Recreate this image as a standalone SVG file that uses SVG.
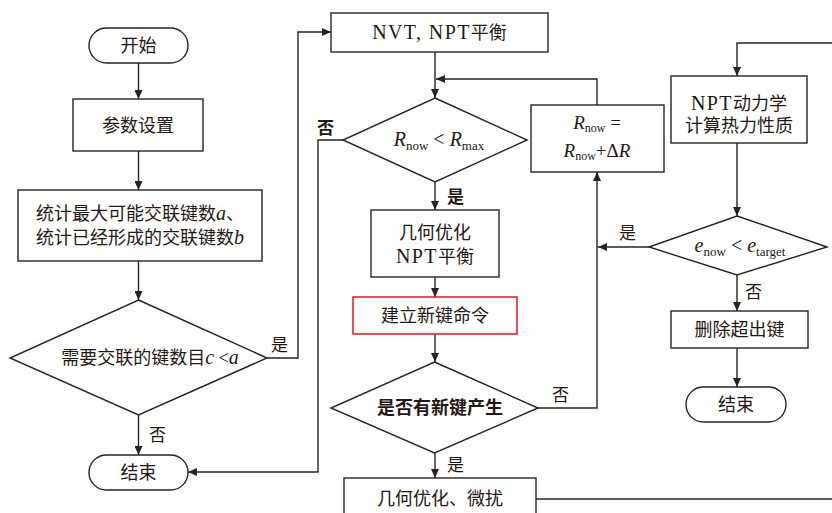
<svg xmlns="http://www.w3.org/2000/svg" width="832" height="513" viewBox="0 0 832 513">
<style>
.shape{fill:#fff;stroke:#2a2220;stroke-width:1.4}
.red{fill:#fff;stroke:#e8141c;stroke-width:1.5}
.conn{fill:none;stroke:#2a2220;stroke-width:1.4}
text{font-family:"Liberation Serif","Noto Sans CJK SC",serif;font-size:18px;fill:#231815}
.c{text-anchor:middle}
.lbl{font-size:17px}
.b{font-weight:bold}
.lat{font-size:20px;letter-spacing:1.4px}
.m{font-style:italic;font-size:20px}
.s{font-size:13px;font-style:normal}
.rb{font-size:19px}
.rb .s{font-size:12px}
</style>
<defs>
<marker id="ah" markerWidth="9" markerHeight="8" refX="9" refY="4" orient="auto" markerUnits="userSpaceOnUse">
<path d="M0,0 L9,4 L0,8 Z" fill="#2a2220"/>
</marker>
</defs>

<g id="connectors">
<path class="conn" d="M138.5,63 V99" marker-end="url(#ah)"/>
<path class="conn" d="M138.5,151 V190" marker-end="url(#ah)"/>
<path class="conn" d="M138.5,261 V300" marker-end="url(#ah)"/>
<path class="conn" d="M267,358 H298 V32 H331" marker-end="url(#ah)"/>
<path class="conn" d="M138.5,415 V455" marker-end="url(#ah)"/>
<path class="conn" d="M343,140 H318 V472 H188" marker-end="url(#ah)"/>
<path class="conn" d="M435,52 V98" marker-end="url(#ah)"/>
<path class="conn" d="M597,105 V79 H436" marker-end="url(#ah)"/>
<path class="conn" d="M435,182 V210" marker-end="url(#ah)"/>
<path class="conn" d="M435,277 V297" marker-end="url(#ah)"/>
<path class="conn" d="M435,334 V362" marker-end="url(#ah)"/>
<path class="conn" d="M538,408 H597 V172" marker-end="url(#ah)"/>
<path class="conn" d="M435,453 V478" marker-end="url(#ah)"/>
<path class="conn" d="M536,499 H840"/>
<path class="conn" d="M840,43 H737 V76" marker-end="url(#ah)"/>
<path class="conn" d="M737,143 V216" marker-end="url(#ah)"/>
<path class="conn" d="M649,247 H598" marker-end="url(#ah)"/>
<path class="conn" d="M737,275 V311" marker-end="url(#ah)"/>
<path class="conn" d="M737,348 V387" marker-end="url(#ah)"/>
<text class="lbl" x="271" y="351">是</text>
<text class="lbl" x="149" y="441">否</text>
<text class="lbl b" x="317" y="134">否</text>
<text class="lbl b" x="447" y="203">是</text>
<text class="lbl" x="552" y="401">否</text>
<text class="lbl" x="447" y="471">是</text>
<text class="lbl" x="619" y="239">是</text>
<text class="lbl" x="745" y="298">否</text>
</g>

<g id="start">
<rect class="shape" x="89" y="28" width="99" height="35" rx="17.5"/>
<text class="c" x="138.5" y="51.5">开始</text>
</g>
<g id="params">
<rect class="shape" x="73" y="99" width="130" height="52"/>
<text class="c" x="138" y="131.5">参数设置</text>
</g>
<g id="stats">
<rect class="shape" x="18" y="190" width="244" height="71"/>
<text class="c" x="140" y="219.5">统计最大可能交联键数<tspan class="m">a</tspan>、</text>
<text class="c" x="140" y="243.5">统计已经形成的交联键数<tspan class="m">b</tspan></text>
</g>
<g id="need">
<polygon class="shape" points="138.5,300 267,358 138.5,415 10,358"/>
<text class="c" x="150" y="364">需要交联的键数目<tspan class="m">c</tspan> &lt;<tspan class="m">a</tspan></text>
</g>
<g id="end1">
<rect class="shape" x="89" y="455" width="99" height="35" rx="17.5"/>
<text class="c" x="138.5" y="478.5">结束</text>
</g>

<g id="nvt">
<rect class="shape" x="331" y="13" width="217" height="39"/>
<text class="c" x="439.5" y="39"><tspan class="lat">NVT, NPT</tspan>平衡</text>
</g>
<g id="rcheck">
<polygon class="shape" points="435,98 527,140 435,182 343,140"/>
<text class="c m" x="439" y="146">R<tspan class="s" dy="4">now</tspan><tspan style="font-style:normal" dy="-4"> &lt; </tspan>R<tspan class="s" dy="4">max</tspan></text>
</g>
<g id="optnpt">
<rect class="shape" x="371" y="210" width="128" height="67"/>
<text class="c" x="435" y="239">几何优化</text>
<text class="c" x="435" y="263"><tspan class="lat">NPT</tspan>平衡</text>
</g>
<g id="newbond">
<rect class="red" x="353" y="297" width="164" height="37"/>
<text class="c" x="435" y="321.5">建立新键命令</text>
</g>
<g id="hasnew">
<polygon class="shape" points="434.5,362 538,408 434.5,453 331,408"/>
<text class="c b" x="440" y="414">是否有新键产生</text>
</g>
<g id="perturb">
<rect class="shape" x="344" y="478" width="192" height="45"/>
<text class="c" x="440" y="505">几何优化、微扰</text>
</g>

<g id="rinc">
<rect class="shape" x="531" y="105" width="133" height="67"/>
<text class="c m rb" x="597" y="129">R<tspan class="s" dy="3">now</tspan><tspan style="font-style:normal" dy="-3"> =</tspan></text>
<text class="c m rb" x="597" y="157">R<tspan class="s" dy="3">now</tspan><tspan style="font-style:normal" dy="-3">+Δ</tspan>R</text>
</g>
<g id="nptdyn">
<rect class="shape" x="671" y="76" width="136" height="67"/>
<text class="c" x="739" y="109.5"><tspan class="lat">NPT</tspan>动力学</text>
<text class="c" x="739" y="131.5">计算热力性质</text>
</g>
<g id="echeck">
<polygon class="shape" points="737,216 827,247 737,275 649,247"/>
<text class="c m" x="740" y="252">e<tspan class="s" dy="4">now</tspan><tspan style="font-style:normal" dy="-4"> &lt; </tspan>e<tspan class="s" dy="4">target</tspan></text>
</g>
<g id="delete">
<rect class="shape" x="671" y="311" width="137" height="37"/>
<text class="c" x="739.5" y="335.5">删除超出键</text>
</g>
<g id="end2">
<rect class="shape" x="686" y="387" width="100" height="35" rx="17.5"/>
<text class="c" x="736" y="410.5">结束</text>
</g>
</svg>
